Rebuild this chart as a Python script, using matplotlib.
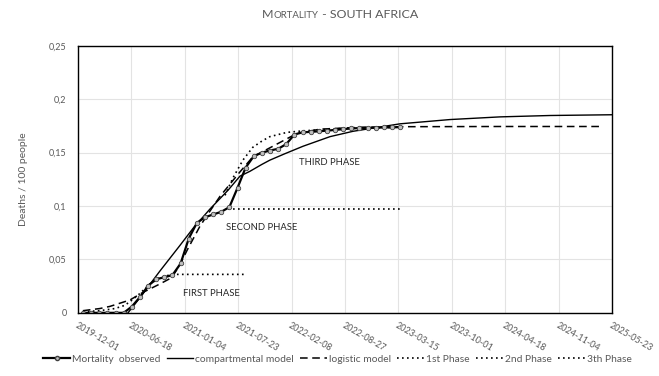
import numpy as np
import pandas as pd
import matplotlib
matplotlib.use('Agg')
import matplotlib.pyplot as plt
from matplotlib.lines import Line2D

plt.rcParams['font.family'] = ['Lato', 'DejaVu Sans']

start = pd.Timestamp('2019-12-01')

# observed mortality, roughly monthly (deaths / 100 people)
obs_days = np.linspace(20, 1206, 40)
obs_vals = [0, 0, 0, 0, 0, 0, 0.0059, 0.0148, 0.0254, 0.0315,
            0.0333, 0.0354, 0.0462, 0.0696, 0.0842, 0.0895, 0.0921, 0.0946, 0.099, 0.117,
            0.136, 0.1467, 0.150, 0.152, 0.1536, 0.158, 0.167, 0.169, 0.1695, 0.170,
            0.1706, 0.1713, 0.172, 0.1727, 0.173, 0.1732, 0.1734, 0.1736, 0.1737, 0.1739]

# compartmental model (days since 2019-12-01)
comp_days = [188, 232, 307, 382, 432, 494, 563, 607, 644, 689, 719, 775, 843, 944, 1030,
             1206, 1393, 1580, 1768, 2000]
comp_vals = [0, 0.014, 0.039, 0.063, 0.0793, 0.097, 0.115, 0.128, 0.1325, 0.139, 0.143,
             0.149, 0.156, 0.165, 0.170, 0.177, 0.181, 0.1835, 0.1848, 0.1855]

# logistic model
logi_days = [19, 82, 120, 195, 243, 307, 352, 382, 412, 457, 494, 532, 607, 655, 730, 775,
             820, 906, 1056, 1206, 1580, 1955]
logi_vals = [0.002, 0.004, 0.006, 0.012, 0.019, 0.027, 0.033, 0.045, 0.060, 0.081, 0.095,
             0.109, 0.132, 0.146, 0.156, 0.162, 0.168, 0.172, 0.1738, 0.1743, 0.1745, 0.1745]

# phases
ph1_days = [19, 82, 139, 176, 198, 232, 270, 307, 352, 633]
ph1_vals = [0.001, 0.002, 0.004, 0.007, 0.011, 0.018, 0.027, 0.033, 0.036, 0.036]
ph2_days = [562, 1206]
ph2_vals = [0.097, 0.097]
ph3_days = [551, 580, 618, 655, 690, 719, 783, 843, 981, 1206]
ph3_vals = [0.110, 0.126, 0.143, 0.155, 0.161, 0.165, 0.169, 0.1704, 0.1725, 0.1738]

tick_labels = ['2019-12-01', '2020-06-18', '2021-01-04', '2021-07-23', '2022-02-08',
               '2022-08-27', '2023-03-15', '2023-10-01', '2024-04-18', '2024-11-04',
               '2025-05-23']


def to_dates(days):
    return [start + pd.Timedelta(days=float(d)) for d in days]


fig = plt.figure(figsize=(6.59, 3.76), dpi=100)
ax = fig.add_axes([0.118, 0.168, 0.811, 0.710])

gray = '#595959'
dot = (0, (1, 2))
dash = (0, (5, 3))
ax.plot(to_dates(comp_days), comp_vals, color='black', lw=1.0)
ax.plot(to_dates(logi_days), logi_vals, color='black', lw=1.1, ls=dash)
ax.plot(to_dates(ph1_days), ph1_vals, color='black', lw=1.2, ls=dot)
ax.plot(to_dates(ph2_days), ph2_vals, color='black', lw=1.2, ls=dot)
ax.plot(to_dates(ph3_days), ph3_vals, color='black', lw=1.2, ls=dot)
ax.plot(to_dates(obs_days), obs_vals, color='black', lw=1.6, marker='o', ms=3.2,
        mfc='#bfbfbf', mec='#404040', mew=0.6)

ticks = [pd.Timestamp(t) for t in tick_labels]
ax.set_xticks(ticks)
ax.set_xticklabels(tick_labels, rotation=-30, ha='left', rotation_mode='anchor',
                   fontsize=6.5, color=gray)
ax.set_xlim(ticks[0], ticks[-1])
ax.set_ylim(0, 0.25)
yt = [0, 0.05, 0.1, 0.15, 0.2, 0.25]
ax.set_yticks(yt)
ax.set_yticklabels(['0', '0,05', '0,1', '0,15', '0,2', '0,25'], fontsize=6.5, color=gray)
ax.tick_params(length=0, pad=8)
ax.tick_params(axis='x', pad=6)
ax.grid(True, color='#e3e3e3', lw=0.8)
ax.set_axisbelow(True)
for s in ax.spines.values():
    s.set_color('black')
    s.set_linewidth(1.0)

ax.set_ylabel('Deaths / 100 people', fontsize=7.5, color=gray, labelpad=15)

ax.text(start + pd.Timedelta(days=500), 0.0185, 'FIRST PHASE', fontsize=6.8,
        color='#262626', ha='center', va='center')
ax.text(start + pd.Timedelta(days=690), 0.0795, 'SECOND PHASE', fontsize=6.8,
        color='#262626', ha='center', va='center')
ax.text(start + pd.Timedelta(days=940), 0.1405, 'THIRD PHASE', fontsize=6.8,
        color='#262626', ha='center', va='center')

# title with small caps look
fig.canvas.draw()
r = fig.canvas.get_renderer()
parts = [('M', 8.9), ('ORTALITY', 6.9), (' - SOUTH AFRICA', 8.9)]
xpos = 0.398
for s, fs in parts:
    t = fig.text(xpos, 0.952, s, fontsize=fs, color=gray, va='baseline', ha='left')
    xpos = t.get_window_extent(r).x1 / fig.bbox.width

handles = [
    Line2D([], [], color='black', lw=1.6, marker='o', ms=3, mfc='#bfbfbf', mec='#404040',
           markevery=[1]),
    Line2D([], [], color='black', lw=1.0),
    Line2D([], [], color='black', lw=1.1, ls=dash),
    Line2D([], [], color='black', lw=1.2, ls=dot),
    Line2D([], [], color='black', lw=1.2, ls=dot),
    Line2D([], [], color='black', lw=1.2, ls=dot),
]
names = ['Mortality  observed', 'compartmental model', 'logistic model', '1st Phase',
         '2nd Phase', '3th Phase']
leg = fig.legend(handles, names, loc='center', bbox_to_anchor=(0.512, 0.045), ncol=6,
                 frameon=False, fontsize=7.4, handlelength=2.6, handletextpad=0.2,
                 columnspacing=0.6)
for txt in leg.get_texts():
    txt.set_color(gray)

fig.savefig('out.png', dpi=100)
